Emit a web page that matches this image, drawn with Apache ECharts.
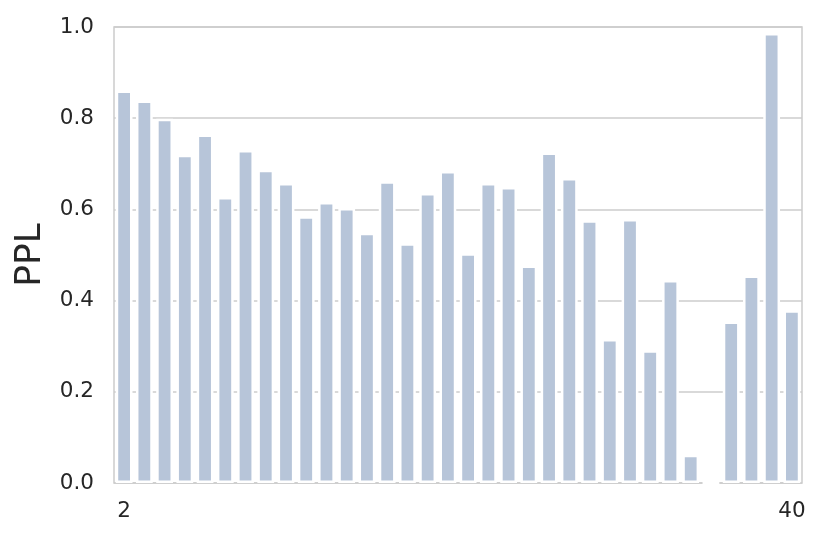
<!DOCTYPE html>
<html>
<head>
<meta charset="utf-8">
<script src="https://cdn.jsdelivr.net/npm/echarts@6/dist/echarts.min.js"></script>
<style>
  html, body { margin: 0; padding: 0; background: #fff; }
</style>
</head>
<body>
<div id="chart_ppl" style="width: 830px; height: 539px"></div>
<script>
// layer index on x, only first and last are labelled in the picture
const layers = [2, 3, 4, 5, 6, 7, 8, 9, 10, 11, 12, 13, 14, 15, 16, 17, 18,
  19, 20, 21, 22, 23, 24, 25, 26, 28, 30, 32, 33, 34, 36, 37, 38, 40];
const pplValues = [0.861, 0.839, 0.799, 0.720, 0.764, 0.627, 0.730, 0.687,
  0.658, 0.585, 0.616, 0.603, 0.549, 0.662, 0.526, 0.636, 0.684, 0.504,
  0.658, 0.649, 0.477, 0.725, 0.669, 0.576, 0.316, 0.579, 0.291, 0.445,
  0.062, 0, 0.354, 0.455, 0.987, 0.379];
const yTicks = [0, 0.2, 0.4, 0.6, 0.8, 1.0];

const textColor = "#262626";
const gridColor = "#cccccc";

const chartInstance_ppl = echarts.init(document.getElementById("chart_ppl"));
const option = {
  backgroundColor: "#ffffff",
  animation: false,
  textStyle: { fontFamily: "DejaVu Sans" },
  grid: {
    left: 114,
    right: 28,
    top: 27,
    bottom: 56,
    outerBoundsMode: "none",
    show: true,
    borderColor: gridColor,
    borderWidth: 1.5,
    backgroundColor: "transparent",
  },
  xAxis: {
    type: "category",
    data: layers.map(String),
    axisLine: { show: false },
    axisTick: { show: false },
    axisLabel: {
      color: textColor,
      fontSize: 21.5,
      margin: 17,
      interval: (idx) => idx === 0 || idx === layers.length - 1,
    },
  },
  yAxis: {
    type: "value",
    min: yTicks[0],
    max: yTicks[yTicks.length - 1],
    interval: 0.2,
    name: "PPL",
    nameLocation: "middle",
    nameGap: 63,
    nameTextStyle: { color: textColor, fontSize: 36 },
    axisLine: { show: false },
    axisTick: { show: false },
    axisLabel: {
      color: textColor,
      fontSize: 21.5,
      margin: 20,
      formatter: (v) => v.toFixed(1),
    },
    splitLine: { lineStyle: { color: gridColor, width: 1.5 } },
  },
  series: [
    {
      name: "PPL",
      type: "bar",
      data: pplValues,
      barWidth: "83%",
      itemStyle: {
        color: "#b7c5d9",
        borderColor: "#ffffff",
        borderWidth: 2.5,
      },
    },
  ],
};
chartInstance_ppl.setOption(option);
</script>
</body>
</html>
